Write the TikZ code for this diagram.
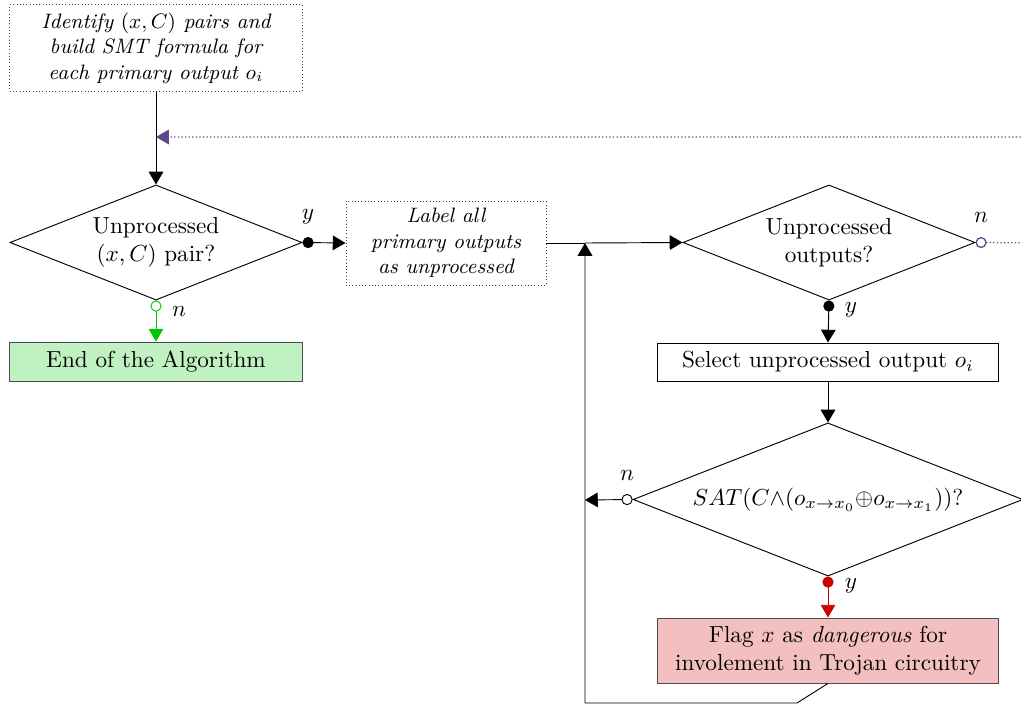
\documentclass[tikz,border=0pt]{standalone}
\usetikzlibrary{shapes.geometric,arrows.meta}
\definecolor{loopviolet}{RGB}{92,72,140}
\definecolor{endgreen}{RGB}{0,200,0}
\definecolor{endfill}{RGB}{192,241,192}
\definecolor{flagred}{RGB}{204,0,0}
\definecolor{flagfill}{RGB}{243,191,191}
\begin{document}
\begin{tikzpicture}[x=0.431pt,y=-0.431pt,
  note/.style={draw=black!75,densely dotted,align=center,inner sep=0pt,font=\small\itshape},
  step box/.style={draw,align=center,inner sep=0pt},
  test/.style={draw,diamond,align=center,inner sep=0pt,shape aspect=2.5},
  flow/.style={-{Triangle[length=5.5pt,width=6.3pt]}},
  yes/.style={{Circle[length=4.8pt]}-{Triangle[length=5.5pt,width=6.3pt]}},
  no/.style={{Circle[open,length=4.8pt]}-{Triangle[length=5.5pt,width=6.3pt]}},
  lbl/.style={inner sep=0pt}]
\clip (0,0) rectangle (1021,704);

% nodes
\node[note,minimum width=125.9pt,minimum height=37.1pt] (init) at (156,48)
  {Identify $(x,C)$ pairs and\\build SMT formula for\\each primary output $o_i$};
\node[test,minimum width=125.9pt,minimum height=49.6pt] (pairs) at (156,242.5)
  {Unprocessed\\$(x,C)$ pair?};
\node[step box,draw=black!70,fill=endfill,minimum width=125.9pt,minimum height=17.2pt] (end) at (156,362)
  {End of the Algorithm};
\node[note,minimum width=86.2pt,minimum height=36.2pt] (label) at (446,243)
  {Label all\\primary outputs\\as unprocessed};
\node[test,minimum width=125.9pt,minimum height=49.6pt] (outs) at (829,242.5)
  {Unprocessed\\outputs?};
\node[step box,minimum width=146.6pt,minimum height=16.4pt] (select) at (828,362)
  {Select unprocessed output $o_i$};
\node[test,shape aspect=2.55,minimum width=168pt,minimum height=66pt] (sat) at (828,499.5)
  {$SAT(C{\wedge}(o_{x\rightarrow x_0}{\oplus}o_{x\rightarrow x_1}))$?};
\node[step box,draw=black!70,fill=flagfill,minimum width=146.6pt,minimum height=28pt] (flag) at (828,650.5)
  {Flag $x$ as \emph{dangerous} for\\involement in Trojan circuitry};

% return path coordinates
\coordinate (join) at (585,243);
\coordinate (retl) at (585,500);
\coordinate (lowl) at (585,703);
\coordinate (lowr) at (797,703);
\coordinate (vtop) at (156,137);
\coordinate (farr) at (1060,243);
\coordinate (fart) at (1060,137);

% connectors
\draw[flow] (init) -- (pairs);
\draw[yes] (pairs.east) -- (label.west);
\draw[no,endgreen] (pairs.south) -- (end.north);
\draw (label.east) -- (join);
\draw[flow] (join) -- (outs.west);
\draw[yes] (outs.south) -- (select.north);
\draw[no,loopviolet,densely dotted,line width=0.55pt] (outs.east) -- (farr) -- (fart) -- (vtop);
\draw[flow] (select) -- (sat);
\draw[yes,flagred] (sat.south) -- (flag.north);
\draw[no] (sat.west) -- (retl);
\draw[flow] (flag.south) -- (lowr) -- (lowl) -- (join);

% branch labels
\node[lbl] (ly1) at (308,217) {$y$};
\node[lbl] (ln1) at (179,312) {$n$};
\node[lbl] (ln2) at (981,218) {$n$};
\node[lbl] (ly2) at (851,310) {$y$};
\node[lbl] (ln3) at (627,476) {$n$};
\node[lbl] (ly3) at (851,586) {$y$};
\end{tikzpicture}
\end{document}
